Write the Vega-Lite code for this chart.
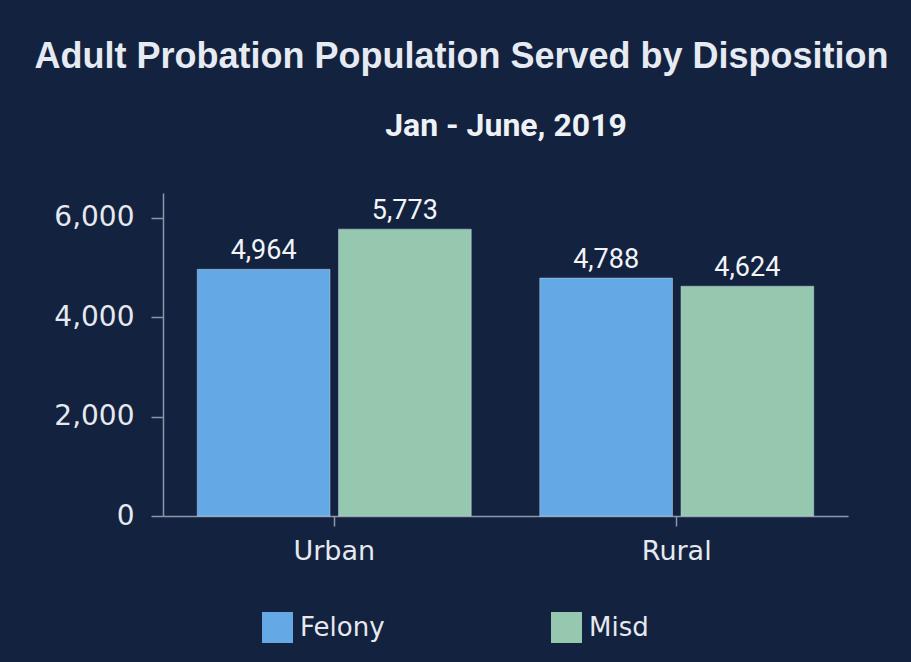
{
  "$schema": "https://vega.github.io/schema/vega-lite/v6.json",
  "width": 685,
  "height": 323,
  "autosize": {"type": "none"},
  "padding": {"left": 163, "top": 193, "right": 63, "bottom": 146},
  "background": "#13223f",
  "title": {
    "text": "Adult Probation Population Served by Disposition",
    "anchor": "middle",
    "frame": "group",
    "dx": -44,
    "offset": 33,
    "font": "Liberation Sans",
    "fontSize": 36,
    "fontWeight": "bold",
    "color": "#e6eaf2"
  },
  "data": {
    "values": [
      {"region": "Urban", "disposition": "Felony", "value": 4964},
      {"region": "Urban", "disposition": "Misd", "value": 5773},
      {"region": "Rural", "disposition": "Felony", "value": 4788},
      {"region": "Rural", "disposition": "Misd", "value": 4624}
    ]
  },
  "encoding": {
    "x": {
      "field": "region",
      "type": "nominal",
      "sort": ["Urban", "Rural"],
      "scale": {"paddingInner": 0.2, "paddingOuter": 0.1},
      "axis": {
        "title": null,
        "labelAngle": 0,
        "labelFont": "DejaVu Sans",
        "labelFontSize": 27,
        "labelColor": "#e6e9ef",
        "labelPadding": 12,
        "tickSize": 10,
        "tickColor": "#8e97aa",
        "domainColor": "#8e97aa",
        "domainWidth": 1.5,
        "tickWidth": 1.5
      }
    },
    "xOffset": {
      "field": "disposition",
      "type": "nominal",
      "sort": ["Felony", "Misd"],
      "scale": {"paddingInner": 0.06}
    },
    "y": {
      "field": "value",
      "type": "quantitative",
      "scale": {"domain": [0, 6500], "nice": false},
      "axis": {
        "title": null,
        "values": [0, 2000, 4000, 6000],
        "format": ",d",
        "grid": false,
        "labelFont": "DejaVu Sans",
        "labelFontSize": 28,
        "labelColor": "#e6e9ef",
        "labelPadding": 17,
        "tickSize": 12,
        "tickColor": "#8e97aa",
        "domainColor": "#8e97aa",
        "domainWidth": 1.5,
        "tickWidth": 1.5
      }
    }
  },
  "layer": [
    {
      "mark": {"type": "bar", "stroke": "#b9cfe0", "strokeWidth": 1, "strokeOpacity": 0.5},
      "encoding": {
        "color": {
          "field": "disposition",
          "type": "nominal",
          "sort": ["Felony", "Misd"],
          "scale": {"domain": ["Felony", "Misd"], "range": ["#64a9e6", "#96c8af"]},
          "legend": {
            "title": null,
            "orient": "none",
            "legendX": 99,
            "legendY": 419,
            "direction": "horizontal",
            "symbolType": "square",
            "symbolSize": 961,
            "symbolStrokeWidth": 0,
            "symbolOpacity": 1,
            "labelFont": "DejaVu Sans",
            "labelFontSize": 26,
            "labelColor": "#e6e9ef",
            "labelOffset": 7,
            "columnPadding": 166,
            "labelLimit": 300
          }
        }
      }
    },
    {
      "mark": {
        "type": "text",
        "dy": -10,
        "baseline": "alphabetic",
        "font": "Roboto",
        "fontSize": 27,
        "color": "#f2f4f7"
      },
      "encoding": {
        "x": {
          "field": "region",
          "type": "nominal",
          "sort": ["Urban", "Rural"],
          "axis": {
            "orient": "top",
            "title": "Jan - June, 2019",
            "titleFont": "Roboto",
            "titleFontSize": 32,
            "titleFontWeight": "bold",
            "titleColor": "#eef1f6",
            "titleBaseline": "alphabetic",
            "titlePadding": 58,
            "domain": false,
            "ticks": false,
            "labels": false
          }
        },
        "text": {"field": "value", "type": "quantitative", "format": ",d"}
      }
    }
  ],
  "resolve": {"axis": {"x": "independent"}},
  "config": {
    "view": {"stroke": null}
  }
}
